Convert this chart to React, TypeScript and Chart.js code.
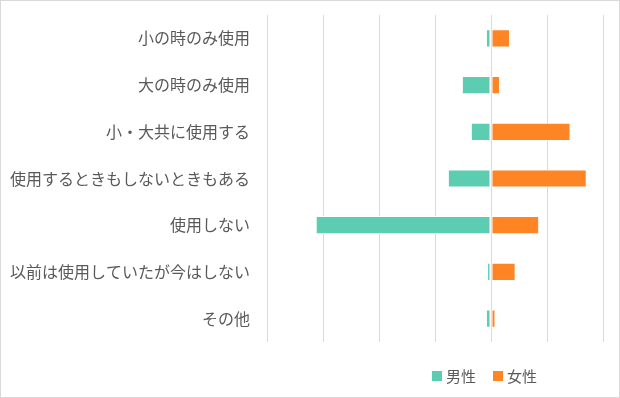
import React, { useEffect, useRef } from "react";
import { Chart, registerables } from "chart.js";

Chart.register(...registerables);

const categories = [
  "小の時のみ使用",
  "大の時のみ使用",
  "小・大共に使用する",
  "使用するときもしないときもある",
  "使用しない",
  "以前は使用していたが今はしない",
  "その他",
];
const seriesNames = ["男性", "女性"];
const maleValues = [-0.9, -5.2, -3.6, -7.7, -31.3, -0.7, -0.9];
const femaleValues = [3.4, 1.6, 14.2, 17.1, 8.6, 4.4, 0.8];
const axisMin = -40;
const axisMax = 20;
const axisStep = 10;

const MALE_COLOR = "#5ccdb0";
const FEMALE_COLOR = "#fe8424";
const TEXT_COLOR = "#595959";
const GRID_COLOR = "#d9d9d9";
const FONT = "'Noto Sans CJK JP', 'Noto Sans', sans-serif";

export default function App() {
  const canvasRef = useRef<HTMLCanvasElement | null>(null);

  useEffect(() => {
    document.body.style.margin = "0";
    if (!canvasRef.current) return;
    const chart = new Chart(canvasRef.current, {
      type: "bar",
      data: {
        labels: categories,
        datasets: [
          {
            label: seriesNames[0],
            data: maleValues,
            backgroundColor: MALE_COLOR,
            borderColor: "#ffffff",
            borderWidth: 1,
            borderSkipped: false,
          },
          {
            label: seriesNames[1],
            data: femaleValues,
            backgroundColor: FEMALE_COLOR,
            borderColor: "#ffffff",
            borderWidth: 1,
            borderSkipped: false,
          },
        ],
      },
      options: {
        indexAxis: "y",
        animation: false,
        responsive: true,
        maintainAspectRatio: false,
        layout: { padding: { top: 14, right: 16, bottom: 55, left: 0 } },
        datasets: {
          bar: { categoryPercentage: 1, barPercentage: 0.39 },
        },
        plugins: {
          legend: { display: false },
          tooltip: { enabled: false },
        },
        scales: {
          x: {
            stacked: true,
            min: axisMin,
            max: axisMax,
            ticks: { display: false, stepSize: axisStep },
            grid: { color: GRID_COLOR, lineWidth: 1, drawTicks: false },
            border: { display: false },
            afterFit: (scale: any) => {
              scale.height = 0;
              scale.paddingLeft = 0;
              scale.paddingRight = 0;
            },
          },
          y: {
            stacked: true,
            ticks: {
              color: TEXT_COLOR,
              font: { family: FONT, size: 16 },
              padding: 17,
            },
            grid: { display: false, drawTicks: false },
            border: { display: false },
            afterFit: (scale: any) => {
              scale.width = 266;
              scale.paddingTop = 0;
              scale.paddingBottom = 0;
            },
          },
        },
      },
    });
    return () => chart.destroy();
  }, []);

  const legendText: React.CSSProperties = {
    fontFamily: FONT,
    fontSize: 15,
    color: TEXT_COLOR,
    lineHeight: "20px",
  };
  const box = (c: string): React.CSSProperties => ({
    width: 10,
    height: 10,
    background: c,
    marginRight: 4,
  });

  return (
    <div
      style={{
        position: "fixed",
        left: 0,
        top: 0,
        width: 620,
        height: 398,
        boxSizing: "border-box",
        border: "1px solid #d9d9d9",
        background: "#ffffff",
      }}
    >
      <div style={{ position: "absolute", left: 0, top: 0, width: 618, height: 396 }}>
        <canvas ref={canvasRef} />
      </div>
      <div
        style={{
          position: "absolute",
          left: 431,
          top: 365,
          display: "flex",
          alignItems: "center",
        }}
      >
        <div style={box(MALE_COLOR)} />
        <span style={legendText}>{seriesNames[0]}</span>
        <div style={{ width: 17 }} />
        <div style={box(FEMALE_COLOR)} />
        <span style={legendText}>{seriesNames[1]}</span>
      </div>
    </div>
  );
}
